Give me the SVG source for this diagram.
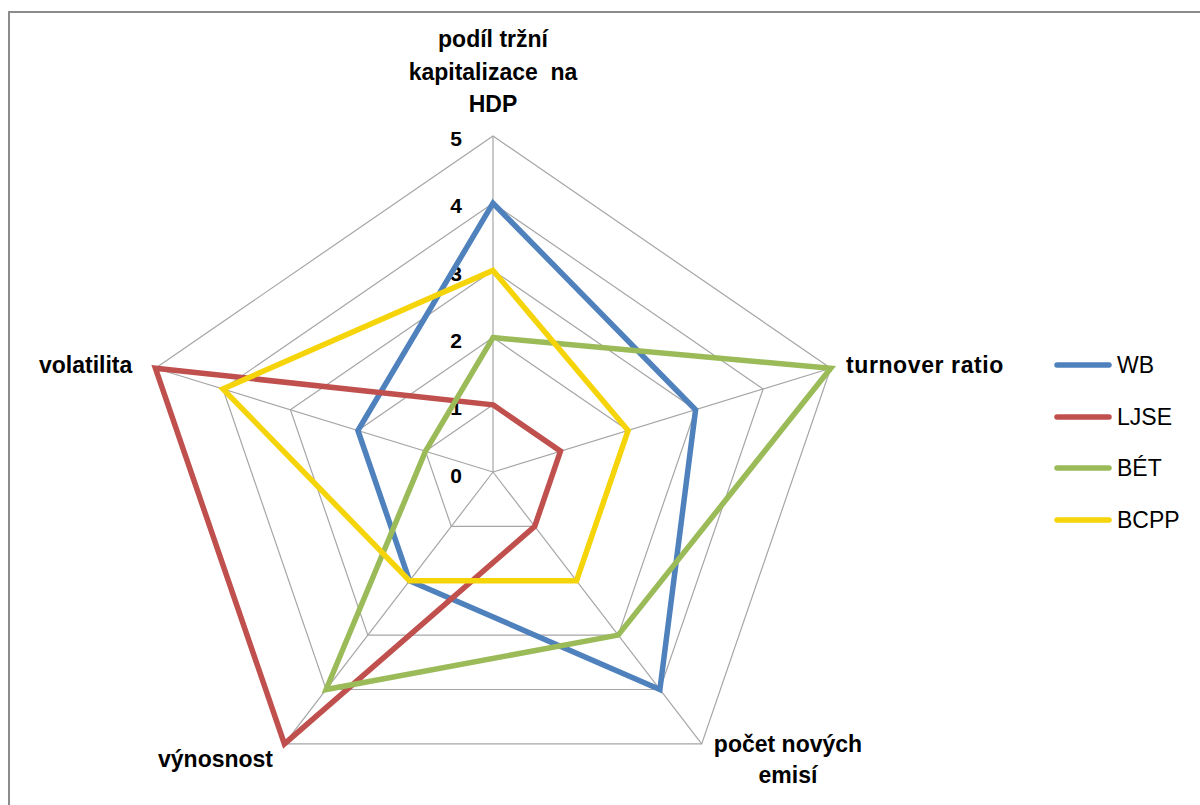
<svg xmlns="http://www.w3.org/2000/svg" width="1200" height="805" viewBox="0 0 1200 805">
<style>
.grid{fill:none;stroke:#a6a6a6;stroke-width:1.2}
.spoke{stroke:#a6a6a6;stroke-width:1.2}
.ser{fill:none;stroke-width:5.5;stroke-linejoin:miter}
.lab{font-family:"Liberation Sans",Arial,sans-serif;font-weight:bold;font-size:23px;fill:#000}
.tick{font-family:"Liberation Sans",Arial,sans-serif;font-weight:bold;font-size:21px;fill:#000;text-anchor:middle}
.leg{font-family:"Liberation Sans",Arial,sans-serif;font-size:23px;fill:#000}
.legl{stroke-width:5.5;stroke-linecap:round}
</style>
<rect x="0" y="0" width="1200" height="805" fill="#fff"/>
<rect x="9" y="12" width="1220" height="820" fill="none" stroke="#8c8c8c" stroke-width="2"/>
<g id="grid">
<polygon class="grid" points="493,404.8 560.5,451.2 534.7,526.4 451.3,526.4 425.5,451.2"/>
<polygon class="grid" points="493,337.6 628.1,430.5 576.5,580.7 409.5,580.7 357.9,430.5"/>
<polygon class="grid" points="493,270.4 695.6,409.7 618.2,635.1 367.8,635.1 290.4,409.7"/>
<polygon class="grid" points="493,203.2 763.1,388.9 659.9,689.5 326.1,689.5 222.9,388.9"/>
<polygon class="grid" points="493,136 830.7,368.2 701.7,743.9 284.4,743.9 155.4,368.2"/>
<line class="spoke" x1="493" y1="472" x2="493" y2="136"/>
<line class="spoke" x1="493" y1="472" x2="830.7" y2="368.2"/>
<line class="spoke" x1="493" y1="472" x2="701.7" y2="743.9"/>
<line class="spoke" x1="493" y1="472" x2="284.4" y2="743.9"/>
<line class="spoke" x1="493" y1="472" x2="155.4" y2="368.2"/>
</g>
<g id="ticks">
<text class="tick" x="456" y="146">5</text>
<text class="tick" x="456" y="213">4</text>
<text class="tick" x="456" y="281">3</text>
<text class="tick" x="456" y="348">2</text>
<text class="tick" x="456" y="415">1</text>
<text class="tick" x="456" y="483">0</text>
</g>
<g id="connectors">
<polygon id="s-WB" class="ser" stroke="#4f81bd" points="493,203.2 695.6,409.7 659.9,689.5 409.5,580.7 357.9,430.5"/>
<polygon id="s-LJSE" class="ser" stroke="#c0504d" points="493,404.8 560.5,451.2 534.7,526.4 284.4,743.9 155.4,368.2"/>
<polygon id="s-BET" class="ser" stroke="#9bbb59" points="493,337.6 830.7,368.2 618.2,635.1 326.1,689.5 425.5,451.2"/>
<polygon id="s-BCPP" class="ser" stroke="#f5d40a" points="493,270.4 628.1,430.5 576.5,580.7 409.5,580.7 222.9,388.9"/>
</g>
<g id="axis-top">
<text class="lab" text-anchor="middle" xml:space="preserve"><tspan x="493" y="47">podíl tržní</tspan><tspan x="493" y="80">kapitalizace  na</tspan><tspan x="493" y="112">HDP</tspan></text>
</g>
<g id="axis-right"><text class="lab" x="846" y="373" letter-spacing="0.6">turnover ratio</text></g>
<g id="axis-bottom-right"><text class="lab" text-anchor="middle"><tspan x="788" y="752">počet nových</tspan><tspan x="788" y="783">emisí</tspan></text></g>
<g id="axis-bottom-left"><text class="lab" x="158" y="767">výnosnost</text></g>
<g id="axis-left"><text class="lab" x="39" y="373">volatilita</text></g>
<g id="legend">
<line class="legl" x1="1057" y1="365" x2="1109" y2="365" stroke="#4f81bd"/>
<text class="leg" x="1117" y="373">WB</text>
<line class="legl" x1="1057" y1="417" x2="1109" y2="417" stroke="#c0504d"/>
<text class="leg" x="1117" y="425">LJSE</text>
<line class="legl" x1="1057" y1="468" x2="1109" y2="468" stroke="#9bbb59"/>
<text class="leg" x="1117" y="476">BÉT</text>
<line class="legl" x1="1057" y1="520" x2="1109" y2="520" stroke="#f5d40a"/>
<text class="leg" x="1117" y="528">BCPP</text>
</g>
</svg>
